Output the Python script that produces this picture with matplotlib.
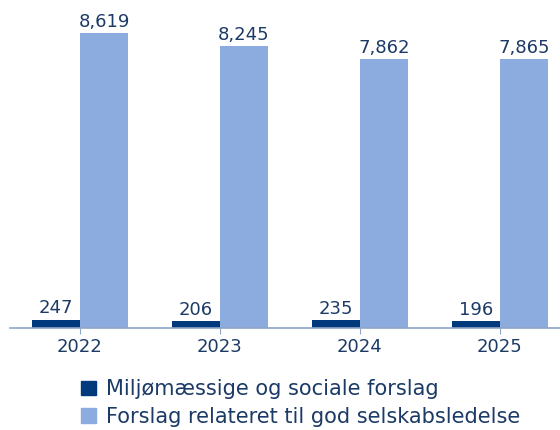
import numpy as np
import matplotlib.pyplot as plt
from matplotlib.patches import Patch

years = ["2022", "2023", "2024", "2025"]
miljo = [247, 206, 235, 196]
forslag = [8619, 8245, 7862, 7865]
series_names = ["Miljømæssige og sociale forslag",
                "Forslag relateret til god selskabsledelse"]

dark = "#003A7D"
light = "#8CABDF"
txt = "#1C3A66"

plt.rcParams['font.family'] = ['DejaVu Sans']

fig = plt.figure(figsize=(5.6, 4.3), dpi=100)
ax = fig.add_axes([10 / 560, 102 / 430, 550 / 560, 328 / 430])

x = np.arange(len(years))
w = 0.343
b1 = ax.bar(x - w / 2, miljo, w, color=dark)
b2 = ax.bar(x + w / 2, forslag, w, color=light)

for bars in (b1, b2):
    for r in bars:
        ax.text(r.get_x() + r.get_width() / 2, r.get_height() + 60,
                f"{int(r.get_height()):,}", ha="center", va="bottom",
                fontsize=13, color=txt)

ax.set_xlim(-0.5, 3.43)
ax.set_ylim(0, 9582)
ax.set_xticks(x)
ax.set_xticklabels(years, fontsize=13, color=txt)
ax.tick_params(axis="x", length=4, color="#8EA4C8", pad=3)
ax.set_yticks([])
for s in ("top", "right", "left"):
    ax.spines[s].set_visible(False)
ax.spines["bottom"].set_color("#8EA4C8")
ax.spines["bottom"].set_linewidth(1.2)

handles = [Patch(color=dark), Patch(color=light)]
fig.legend(handles, series_names, loc="upper left",
           bbox_to_anchor=(73 / 560, 1 - 371 / 430), frameon=False,
           fontsize=15, labelcolor=txt, handlelength=0.7, handleheight=0.7,
           handletextpad=0.5, labelspacing=0.35, borderaxespad=0)

fig.savefig("out.png", dpi=100)
